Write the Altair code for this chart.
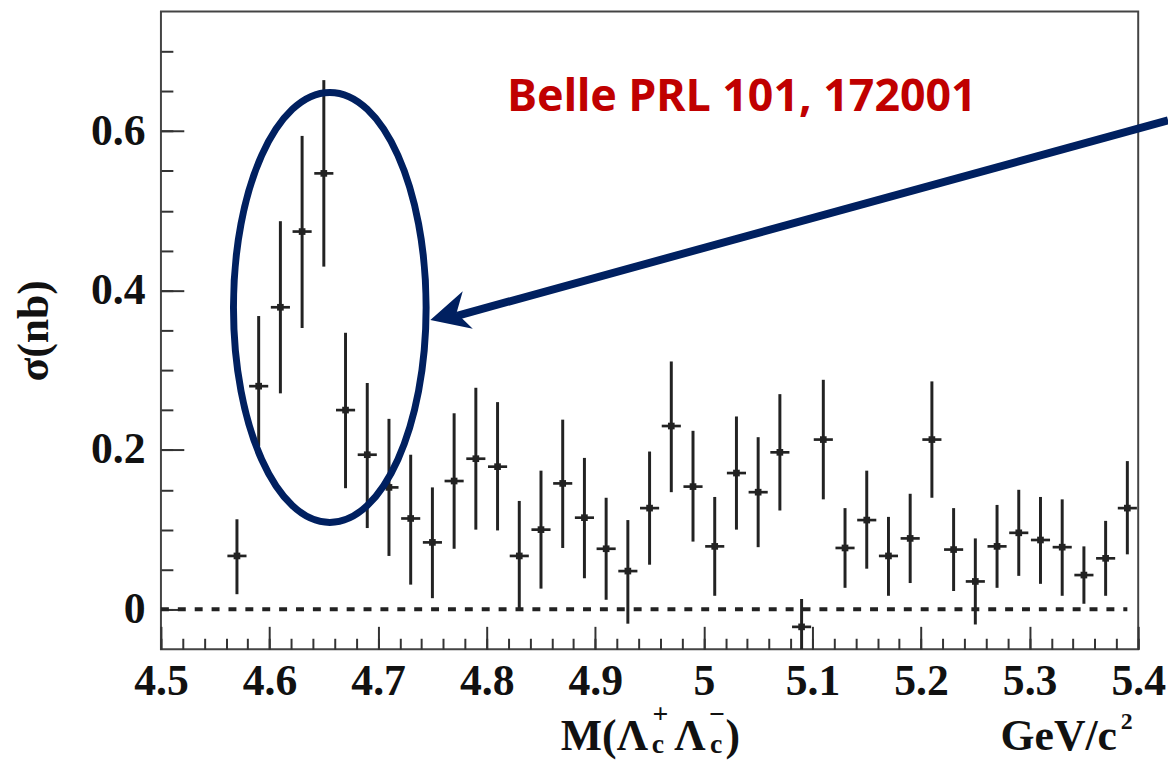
import altair as alt
import pandas as pd

# ---- data ----
mass = [4.57, 4.59, 4.61, 4.63, 4.65, 4.67, 4.69, 4.71, 4.73, 4.75,
        4.77, 4.79, 4.81, 4.83, 4.85, 4.87, 4.89, 4.91, 4.93, 4.95,
        4.97, 4.99, 5.01, 5.03, 5.05, 5.07, 5.09, 5.11, 5.13, 5.15,
        5.17, 5.19, 5.21, 5.23, 5.25, 5.27, 5.29, 5.31, 5.33, 5.35,
        5.37, 5.39]
sigma = [0.067, 0.280, 0.379, 0.474, 0.547, 0.250, 0.194, 0.153, 0.114, 0.084,
         0.161, 0.189, 0.179, 0.067, 0.100, 0.158, 0.115, 0.076, 0.048, 0.127,
         0.230, 0.154, 0.079, 0.171, 0.147, 0.197, -0.022, 0.213, 0.077, 0.112,
         0.067, 0.089, 0.213, 0.075, 0.035, 0.079, 0.096, 0.087, 0.078, 0.043,
         0.064, 0.127]
err_lo = [0.019, 0.205, 0.271, 0.353, 0.430, 0.152, 0.102, 0.067, 0.031, 0.014,
          0.076, 0.100, 0.099, 0.000, 0.026, 0.077, 0.039, 0.012, -0.018, 0.056,
          0.147, 0.085, 0.017, 0.100, 0.078, 0.124, -0.050, 0.138, 0.027, 0.051,
          0.017, 0.033, 0.140, 0.023, -0.019, 0.027, 0.042, 0.032, 0.017, 0.007,
          0.017, 0.069]
err_hi = [0.113, 0.368, 0.487, 0.594, 0.664, 0.347, 0.284, 0.239, 0.194, 0.153,
          0.246, 0.278, 0.260, 0.136, 0.174, 0.238, 0.190, 0.140, 0.112, 0.198,
          0.311, 0.224, 0.141, 0.242, 0.216, 0.270, 0.013, 0.288, 0.127, 0.174,
          0.116, 0.145, 0.286, 0.127, 0.089, 0.131, 0.150, 0.141, 0.138, 0.079,
          0.111, 0.186]

x_major = [4.5, 4.6, 4.7, 4.8, 4.9, 5.0, 5.1, 5.2, 5.3, 5.4]
x_minor = [round(4.5 + 0.02 * i, 2) for i in range(46)]
y_major = [0, 0.2, 0.4, 0.6]
y_minor = [round(0.05 * i, 2) for i in range(15)]

x_domain = [4.5, 5.4]
y_domain = [-0.05, 0.75]

# annotation pieces (data coordinates)
title_text = ["M(Λ", "+", "c", "Λ", "−", "c", ")", "GeV/c", "2"]
title_x = [4.9084, 4.9601, 4.9578, 4.9871, 5.0122, 5.0113, 5.0267, 5.3268, 5.3895]
title_y = [-0.1766, -0.1432, -0.1808, -0.1766, -0.1432, -0.1808, -0.1766, -0.1766, -0.1506]
title_fs = [44, 28, 28, 44, 28, 28, 44, 44, 24]

note_text = ["Belle PRL 101, 172001"]
note_x = [5.0351]
note_y = [0.6252]

ellipse_x = [4.6555]
ellipse_y = [0.3788]
arrow_start = (5.4275, 0.6136)
arrow_notch = (4.7726, 0.3683)
arrow_tip = (4.7481, 0.3629)

INK = "#222222"
NAVY = "#002060"
SERIF = "Liberation Serif"

df = pd.DataFrame({"m": mass, "s": sigma, "lo": err_lo, "hi": err_hi})
titles = pd.DataFrame({"t": title_text, "x": title_x, "y": title_y, "fs": title_fs})
note = pd.DataFrame({"t": note_text, "x": note_x, "y": note_y})
ell = pd.DataFrame({"x": ellipse_x, "y": ellipse_y})
arrow = pd.DataFrame({"x": [arrow_start[0]], "y": [arrow_start[1]],
                      "x2": [arrow_notch[0]], "y2": [arrow_notch[1]]})
head = pd.DataFrame({"x": [arrow_tip[0]], "y": [arrow_tip[1]]})
zero = pd.DataFrame({"x": [4.5], "x2": [5.39], "y": [0.0]})

xs = alt.Scale(domain=x_domain, nice=False, zero=False)
ys = alt.Scale(domain=y_domain, nice=False, zero=False)

major_x_axis = alt.Axis(orient="bottom", values=x_major, format="~g", tickSize=23, offset=-23,
                        domain=False, grid=False, tickColor="#333333", tickWidth=2,
                        labelFont=SERIF, labelFontWeight="bold", labelFontSize=44,
                        labelColor="#111111", labelPadding=11, labelFlush=False,
                        labelOverlap=False, title=None)
major_y_axis = alt.Axis(orient="left", values=y_major, format="~g", tickSize=23, offset=-23,
                        domain=False, grid=False, tickColor="#333333", tickWidth=2,
                        labelFont=SERIF, labelFontWeight="bold", labelFontSize=44,
                        labelColor="#111111", labelPadding=16, labelFlush=False,
                        labelOverlap=False, title="σ(nb)", titleFont=SERIF,
                        titleFontWeight="bold", titleFontSize=44, titleColor="#111111",
                        titlePadding=34)
minor_x_axis = alt.Axis(orient="bottom", values=x_minor, tickSize=11, offset=-11,
                        domain=False, grid=False, labels=False, tickColor="#333333",
                        tickWidth=2, title=None)
minor_y_axis = alt.Axis(orient="left", values=y_minor, tickSize=12, offset=-12,
                        domain=False, grid=False, labels=False, tickColor="#333333",
                        tickWidth=2, title=None)

base = alt.Chart(df)

# vertical error bars (carry the major axes)
vbars = base.mark_rule(color=INK, strokeWidth=3).encode(
    x=alt.X("m:Q", scale=xs, axis=major_x_axis),
    y=alt.Y("lo:Q", scale=ys, axis=major_y_axis),
    y2="hi:Q",
)
hbars = base.transform_calculate(
    xl="datum.m - 0.0088", xr="datum.m + 0.0088"
).mark_rule(color=INK, strokeWidth=2.7).encode(
    x=alt.X("xl:Q", scale=xs, axis=None),
    x2="xr:Q",
    y=alt.Y("s:Q", scale=ys, axis=None),
)
dots = base.mark_square(color=INK, size=45, opacity=1).encode(
    x=alt.X("m:Q", scale=xs, axis=None),
    y=alt.Y("s:Q", scale=ys, axis=None),
)

# dashed zero line (carries the minor axes)
zero_line = alt.Chart(zero).mark_rule(color=INK, strokeWidth=4, strokeDash=[8, 9]).encode(
    x=alt.X("x:Q", scale=xs, axis=minor_x_axis),
    x2="x2:Q",
    y=alt.Y("y:Q", scale=ys, axis=minor_y_axis),
)

ellipse_path = "M -0.448 0 A 0.448 1 0 1 1 0.448 0 A 0.448 1 0 1 1 -0.448 0 Z"
ellipse = alt.Chart(ell).mark_point(shape=ellipse_path, size=187489, filled=False,
                                    stroke=NAVY, strokeWidth=7, opacity=1).encode(
    x=alt.X("x:Q", scale=xs, axis=None),
    y=alt.Y("y:Q", scale=ys, axis=None),
)
arrow_line = alt.Chart(arrow).mark_rule(color=NAVY, strokeWidth=8).encode(
    x=alt.X("x:Q", scale=xs, axis=None),
    y=alt.Y("y:Q", scale=ys, axis=None),
    x2="x2:Q",
    y2="y2:Q",
)
arrow_head = alt.Chart(head).mark_point(shape="M 0 0 L 0.5 1 L 0 0.7 L -0.5 1 Z",
                                        size=6084, angle=255, filled=True,
                                        color=NAVY, opacity=1).encode(
    x=alt.X("x:Q", scale=xs, axis=None),
    y=alt.Y("y:Q", scale=ys, axis=None),
)

note_mark = alt.Chart(note).mark_text(font="Noto Sans", fontWeight="bold", fontSize=45,
                                      color="#C00000", align="center",
                                      baseline="alphabetic").encode(
    x=alt.X("x:Q", scale=xs, axis=None),
    y=alt.Y("y:Q", scale=ys, axis=None),
    text="t:N",
)
title_mark = alt.Chart(titles).mark_text(font=SERIF, fontWeight="bold", color="#111111",
                                         align="center", baseline="alphabetic").encode(
    x=alt.X("x:Q", scale=xs, axis=None),
    y=alt.Y("y:Q", scale=ys, axis=None),
    text="t:N",
    size=alt.Size("fs:Q", scale=None, legend=None),
)

chart = alt.layer(
    zero_line, vbars, hbars, dots, ellipse, arrow_line, arrow_head, note_mark, title_mark
).resolve_axis(
    x="independent", y="independent"
).properties(
    width=984, height=642,
    autosize=alt.AutoSizeParams(type="none"),
    padding={"left": 154, "top": 1, "right": 30, "bottom": 114},
    background="white",
).configure_view(
    stroke="#444444", strokeWidth=2
)

chart.save("out.html", embed_options={"renderer": "svg", "actions": False})
